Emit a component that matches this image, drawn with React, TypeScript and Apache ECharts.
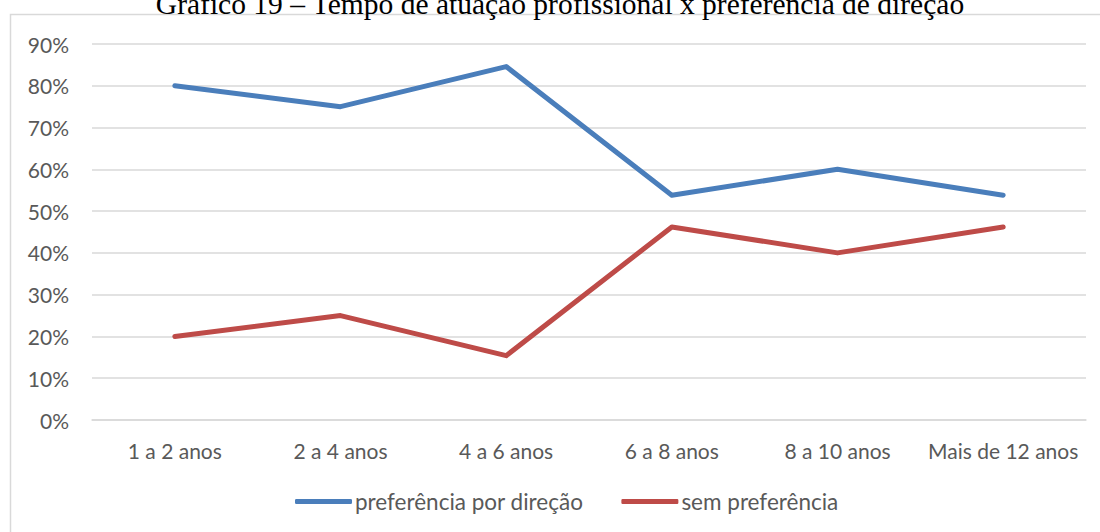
import React, { useEffect, useRef } from "react";
import * as echarts from "echarts";

const categories = ["1 a 2 anos", "2 a 4 anos", "4 a 6 anos", "6 a 8 anos", "8 a 10 anos", "Mais de 12 anos"];
const preferenciaPorDirecao = [80, 75, 84.6, 53.8, 60, 53.8];
const semPreferencia = [20, 25, 15.4, 46.2, 40, 46.2];
const seriesNames = ["preferência por direção", "sem preferência"];
const titleText = "Gráfico 19 – Tempo de atuação profissional x preferência de direção";

export default function App() {
  const ref = useRef<HTMLDivElement>(null);
  useEffect(() => {
    if (!ref.current) return;
    const chart = echarts.init(ref.current, null, { renderer: "svg" });
    const font = "Lato, 'Noto Sans', sans-serif";
    chart.setOption({
      animation: false,
      backgroundColor: "#ffffff",
      graphic: [
        {
          type: "rect",
          shape: { x: 10.5, y: 14.5, width: 1200, height: 600 },
          style: { fill: "none", stroke: "#d9d9d9", lineWidth: 1.5 },
          z: 0,
        },
        {
          type: "text",
          x: 560,
          y: 19,
          z: 10,
          style: {
            text: titleText,
            fill: "#000000",
            font: "29.5px 'Liberation Serif', 'Times New Roman', serif",
            align: "center",
            verticalAlign: "bottom",
          },
        },
      ],
      grid: { left: 92, right: 14, top: 44, bottom: 112, containLabel: false },
      legend: {
        bottom: 14,
        left: 290,
        itemWidth: 57,
        itemHeight: 5,
        itemGap: 38,
        icon: "roundRect",
        textStyle: { color: "#595959", fontSize: 22.5, fontFamily: font, padding: [0, 0, 0, -2] },
        data: seriesNames,
      },
      xAxis: {
        type: "category",
        data: categories,
        boundaryGap: true,
        axisLine: { show: true, lineStyle: { color: "#d9d9d9", width: 1.5 } },
        axisTick: { show: false },
        axisLabel: { color: "#595959", fontSize: 21, fontFamily: font, margin: 20, interval: 0 },
      },
      yAxis: {
        type: "value",
        min: 0,
        max: 90,
        interval: 10,
        axisLine: { show: false },
        axisTick: { show: false },
        splitLine: { lineStyle: { color: "#d9d9d9", width: 1.5 } },
        axisLabel: { color: "#595959", fontSize: 21, fontFamily: font, margin: 23, formatter: "{value}%" },
      },
      series: [
        {
          name: seriesNames[0],
          type: "line",
          data: preferenciaPorDirecao,
          symbol: "none",
          lineStyle: { color: "#4a7ebb", width: 5, cap: "round", join: "round" },
          itemStyle: { color: "#4a7ebb" },
        },
        {
          name: seriesNames[1],
          type: "line",
          data: semPreferencia,
          symbol: "none",
          lineStyle: { color: "#be4b48", width: 5, cap: "round", join: "round" },
          itemStyle: { color: "#be4b48" },
        },
      ],
    });
    return () => chart.dispose();
  }, []);
  return <div ref={ref} style={{ position: "fixed", left: 0, top: 0, width: 1100, height: 532 }} />;
}
